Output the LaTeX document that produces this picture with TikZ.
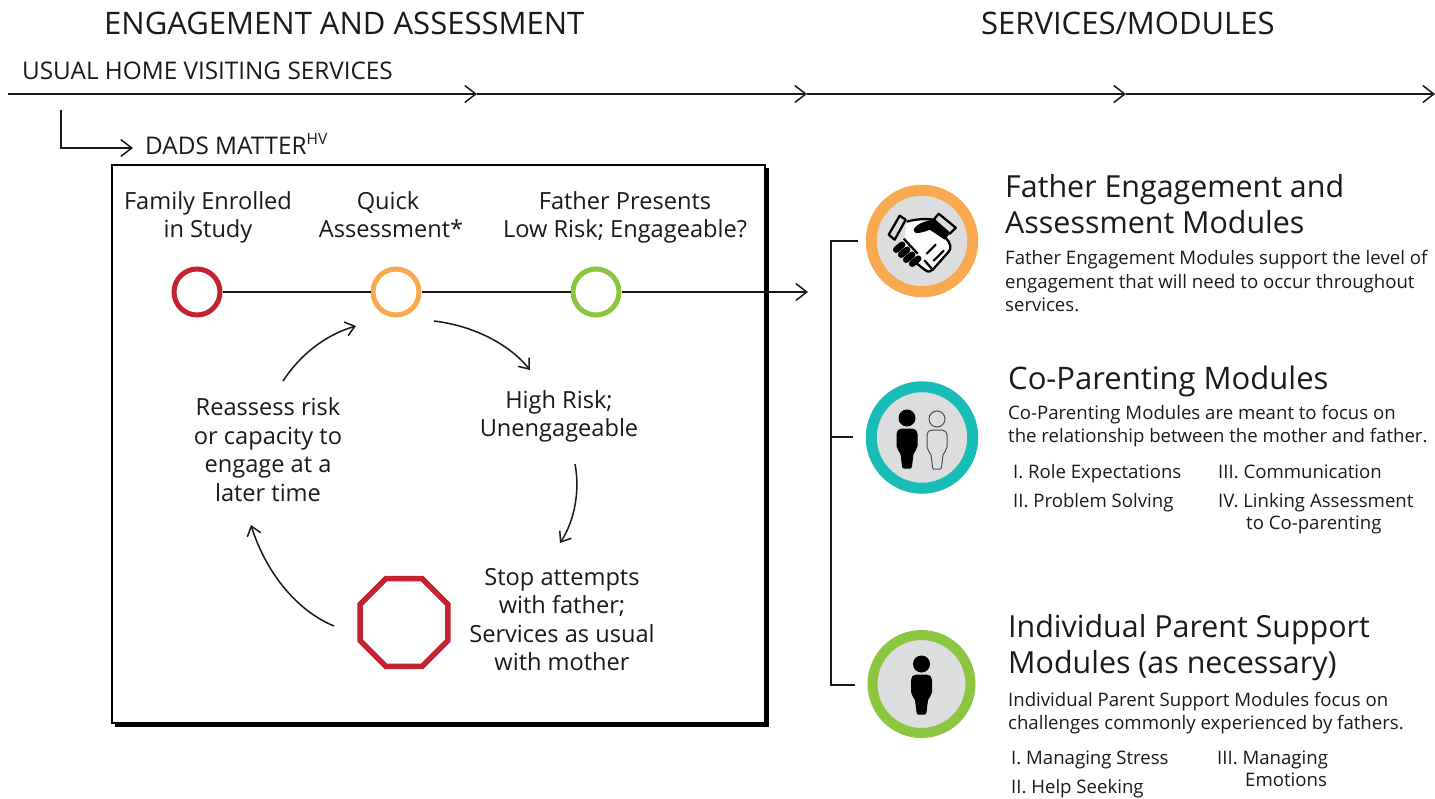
\documentclass[tikz,border=0pt]{standalone}
\usepackage{fontspec}
\setmainfont{Open Sans}
\usetikzlibrary{arrows.meta,shapes.geometric,calc}
\definecolor{cred}{HTML}{C4232F}
\definecolor{corange}{HTML}{F9A950}
\definecolor{cgreen}{HTML}{8CC63F}
\definecolor{cteal}{HTML}{19BDB7}
\definecolor{cgray}{HTML}{DCDDDF}
\definecolor{ctext}{HTML}{1A1A1A}
\tikzset{
 x=1pt,y=-1pt,
 head/.style={font=\fontsize{31}{36}\selectfont,text=ctext,inner sep=0pt},
 sub/.style={font=\fontsize{24.3}{28}\selectfont,text=ctext,inner sep=0pt},
 lbl/.style={font=\fontsize{23.6}{28.5}\selectfont,align=center,text=ctext,inner sep=0pt,anchor=north,execute at begin node=\strut},
 modtitle/.style={font=\fontsize{30.4}{35.5}\selectfont,align=left,text=ctext,inner sep=0pt,anchor=north west},
 body/.style={font=\fontsize{18.6}{23.5}\selectfont,align=left,text=ctext,inner sep=0pt,anchor=north west},
 item/.style={font=\fontsize{18.6}{22}\selectfont,align=left,text=ctext,inner sep=0pt,anchor=north west},
 conn/.style={draw=black!90,line width=1.5pt},
 arr/.style={conn,-{Straight Barb[length=11pt,width=17pt,line width=1.5pt]}},
 curve/.style={conn,-{Straight Barb[length=9pt,width=14pt,line width=1.5pt]}},
 dot/.style={circle,draw=#1,fill=white,line width=5pt,minimum size=46pt,inner sep=0pt},
 ring/.style={circle,draw=#1,fill=cgray,line width=11pt,minimum size=101.5pt,inner sep=0pt},
}
\newcommand{\person}[4]{% cx, top y, fill, draw
 \fill[#3,draw=#4,line width=1pt] (#1,#2+8) circle (8);
 \path[fill=#3,draw=#4,line width=1pt]
  (#1-5,#2+19) -- (#1+5,#2+19) .. controls (#1+8,#2+19) and (#1+10,#2+21) .. (#1+10,#2+24)
  -- (#1+10,#2+36) .. controls (#1+10,#2+39) and (#1+7,#2+41) .. (#1+6,#2+44)
  -- (#1+4.5,#2+56) .. controls (#1+4.5,#2+58) and (#1+3.5,#2+58) .. (#1+3,#2+58)
  -- (#1-3,#2+58) .. controls (#1-3.5,#2+58) and (#1-4.5,#2+58) .. (#1-4.5,#2+56)
  -- (#1-6,#2+44) .. controls (#1-7,#2+41) and (#1-10,#2+39) .. (#1-10,#2+36)
  -- (#1-10,#2+24) .. controls (#1-10,#2+21) and (#1-8,#2+19) .. (#1-5,#2+19) -- cycle;
}
\begin{document}
\begin{tikzpicture}
\useasboundingbox (0,0) rectangle (1435,798);
\node[head,anchor=base west] (h1) at (104,34.5) {ENGAGEMENT AND ASSESSMENT};
\node[head,anchor=base west] (h2) at (981,34.5) {SERVICES/MODULES};
\node[sub,anchor=base west] (usual) at (22,79) {USUAL HOME VISITING SERVICES};
\coordinate (t0) at (8,94);
\coordinate (t1) at (477,94);
\coordinate (t2) at (807,94);
\coordinate (t3) at (1126,94);
\coordinate (t4) at (1435,94);
\draw[arr] (t0) -- (t1);
\draw[arr] (t1) -- (t2);
\draw[arr] (t2) -- (t3);
\draw[arr] (t3) -- (t4);
\node[sub,anchor=base west] (dads) at (145,154) {DADS MATTER\raisebox{10pt}{\fontsize{15.5}{15.5}\selectfont HV}};
\coordinate (d0) at (61,110);
\coordinate (d1) at (133,148);
\draw[arr] (d0) |- (d1);
% box
\fill[black] (115,168) rectangle (769,727);
\node[draw=black,fill=white,line width=2pt,minimum width=653pt,minimum height=558pt,inner sep=0pt,outer sep=0pt,anchor=north west] (box) at (112,165) {};
\node[lbl] (l1) at (208,191) {Family Enrolled\\in Study};
\node[lbl] (l2) at (388,191) {Quick\\\hspace*{6pt}Assessment*};
\node[lbl] (l3) at (625,191) {Father Presents\\Low Risk; Engageable?};
\node[dot=cred] (c1) at (197,292) {};
\node[dot=corange] (c2) at (396,292) {};
\node[dot=cgreen] (c3) at (596,292) {};
\coordinate (tipb) at (808,292);
\draw[conn] (c1) -- (c2);
\draw[conn] (c2) -- (c3);
\draw[arr] (c3) -- (tipb);
\node[lbl] (high) at (559,390) {High Risk;\\Unengageable};
\node[lbl] (stop) at (562,568) {Stop attempts\\with father;\\Services as usual\\with mother};
\node[lbl] (re) at (268,397.5) {Reassess risk\\or capacity to\\engage at a\\later time};
\node[regular polygon,regular polygon sides=8,draw=cred,line width=5.5pt,minimum size=95pt,inner sep=0pt,fill=white] (oct) at (404,622.5) {};
\coordinate (a1s) at (434,321); \coordinate (a1e) at (530,370);
\coordinate (a2s) at (575,464); \coordinate (a2e) at (560,543);
\coordinate (a3s) at (334,626); \coordinate (a3e) at (251,525);
\coordinate (a4s) at (283,381); \coordinate (a4e) at (356,326);
\draw[curve] (a1s) .. controls (475,326) and (510,345) .. (a1e);
\draw[curve] (a2s) .. controls (580,490) and (575,520) .. (a2e);
\draw[curve] (a3s) .. controls (295,610) and (265,570) .. (a3e);
\draw[curve] (a4s) .. controls (300,355) and (325,335) .. (a4e);
% rings
\node[ring=corange] (r1) at (922,241) {};
\node[ring=cteal] (r2) at (922,437.5) {};
\node[ring=cgreen,minimum size=98pt,line width=10pt] (r3) at (921.5,684) {};
% bracket
\coordinate (bt) at (858,241); \coordinate (bm) at (853,437); \coordinate (bb) at (855,685);
\coordinate (bx) at (831,241);
\draw[conn] (bt) -- (bx) -- (bx|-bb) -- (bb);
\draw[conn] (bx|-bm) -- (bm);
% handshake
\begin{scope}[shift={(921.7,240.7)},line join=round]
 % hand body
 \path[fill=white!92!cgray] (-17,-4) -- (-15,-19) .. controls (-5,-22) and (5,-22) .. (12,-21) -- (27,-6) -- (28,2) .. controls (29,6) and (28,8) .. (26,10) -- (9,30) -- (2,27) -- (-22,4) -- cycle;
 \draw[black,line width=2.3pt] (-15,-19) .. controls (-5,-22) and (5,-22) .. (12,-21);
 % left cuff
 \draw[black,line width=2.3pt,fill=cgray] (-22,-25) -- (-16,-21) -- (-27,-1) -- (-33,-6) -- cycle;
 % right cuff
 \draw[black,line width=2.3pt,fill=cgray] (17,-27) -- (34,-13) -- (28,-7) -- (12,-21) -- cycle;
 \path[fill=black] (12,-21) -- (28,-7) -- (23,-1) -- (8,-11) .. controls (1,-8) and (-8,-6) .. (-8,-10) .. controls (-8,-15) and (2,-20) .. (12,-21) -- cycle;
 % lower left edge of hand
 \draw[black,line width=2.3pt] (-18,-2) -- (-4,13) (-6,22) -- (3,29) .. controls (6,32) and (9,31) .. (11,29) -- (27,11) .. controls (30,8) and (29,2) .. (24,-3);
 % black fingers
 \foreach \a/\b in {-22/8,-17/13,-12/18,-6/22}{
   \draw[black,line width=6.5pt,line cap=round] (\a-3.5,\b+1) -- (\a+2.5,\b-4);
 }
 % finger separators
 \draw[black,line width=2.2pt,line cap=round] (5,13) -- (14,4);
 \draw[black,line width=2.2pt,line cap=round] (12,20) -- (22,10);
 \draw[black,line width=2.2pt,line cap=round] (3,20) -- (11,29);
\end{scope}
\person{907}{410}{black}{black}
\person{937}{411}{cgray}{black!70}
\person{921.5}{656}{black}{black}
% text
\node[modtitle] (t1a) at (1005,174.5) {Father Engagement and\\Assessment Modules};
\node[body] (b1) at (1005,250.5) {Father Engagement Modules support the level of\\engagement that will need to occur throughout\\services.};
\node[modtitle,font=\fontsize{31}{36}\selectfont] (t2a) at (1008,365.5) {Co-Parenting Modules};
\node[body] (b2) at (1008,405) {Co-Parenting Modules are meant to focus on\\the relationship between the mother and father.};
\node[item] (i1) at (1013,464.5) {I. Role Expectations};
\node[item] (i2) at (1013,493.5) {II. Problem Solving};
\node[item] (i3) at (1218,464.5) {III. Communication};
\node[item] (i4) at (1218,493.5) {IV. Linking Assessment\\\hspace*{28pt}to Co-parenting};
\node[modtitle] (t3a) at (1008,614.5) {Individual Parent Support\\Modules (as necessary)};
\node[body] (b3) at (1008,692) {Individual Parent Support Modules focus on\\challenges commonly experienced by fathers.};
\node[item] (i5) at (1011,751) {I. Managing Stress};
\node[item] (i6) at (1011,779) {II. Help Seeking};
\node[item] (i7) at (1217,751) {III. Managing\\\hspace*{28pt}Emotions};
\end{tikzpicture}
\end{document}
